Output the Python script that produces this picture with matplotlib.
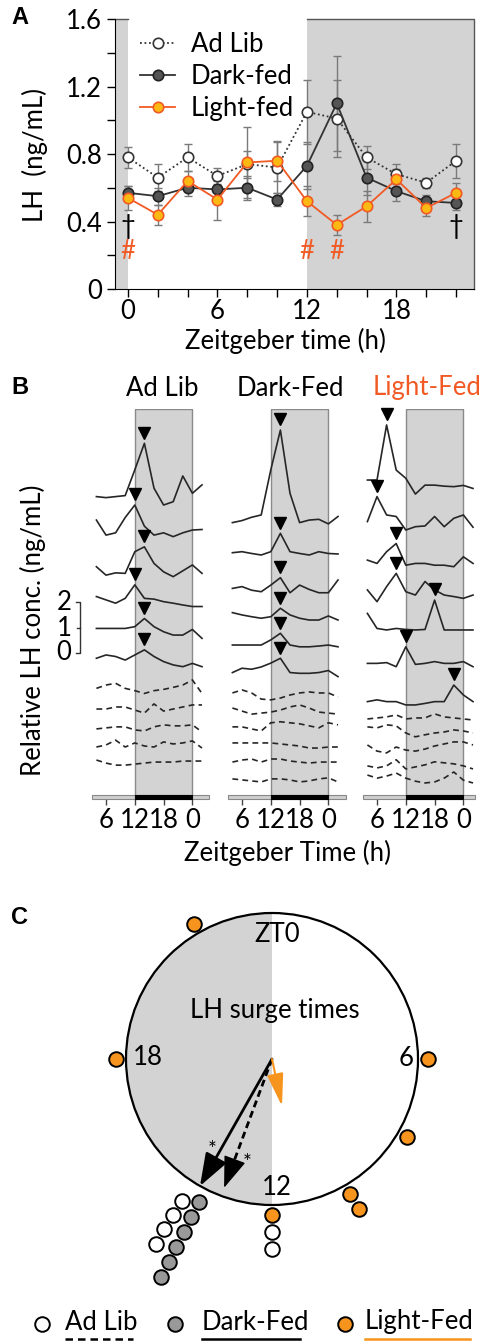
import numpy as np
import matplotlib
matplotlib.use('Agg')
import matplotlib.pyplot as plt
from matplotlib.patches import Rectangle, Wedge, Circle, FancyArrowPatch

plt.rcParams['font.family'] = ['Lato', 'DejaVu Sans']
FS = 18.5
plt.rcParams['font.size'] = FS

W, H = 480, 1343
SHADE = '#d3d3d3'
ORANGE = '#f15a24'
YELLOW = '#fdb913'
DOT_ORANGE = '#f7941d'

# ---------------- panel A: mean LH (ng/mL) +- SEM
zt_a = [0, 2, 4, 6, 8, 10, 12, 14, 16, 18, 20, 22]
adlib_mean = [0.78, 0.66, 0.78, 0.67, 0.74, 0.72, 1.05, 1.01, 0.78, 0.68, 0.63, 0.76]
adlib_sem = [0.06, 0.08, 0.08, 0.05, 0.08, 0.15, 0.19, 0.23, 0.07, 0.06, 0.03, 0.10]
dark_mean = [0.57, 0.55, 0.60, 0.59, 0.60, 0.53, 0.73, 1.10, 0.66, 0.58, 0.52, 0.51]
dark_sem = [0.04, 0.05, 0.05, 0.05, 0.07, 0.04, 0.14, 0.28, 0.10, 0.06, 0.04, 0.04]
light_mean = [0.54, 0.44, 0.64, 0.53, 0.75, 0.76, 0.52, 0.38, 0.49, 0.65, 0.48, 0.57]
light_sem = [0.07, 0.06, 0.06, 0.12, 0.21, 0.12, 0.09, 0.06, 0.09, 0.06, 0.05, 0.06]
dagger_zt = [0, 22]
hash_zt = [0, 12, 14]

# ---------------- panel B: relative LH of single animals, sampled every 2 h
zt_b = [4, 6, 8, 10, 12, 14, 16, 18, 20, 22, 24, 26]
adlib_solid = [
    [0, -0.04, 0, 0.04, 1.05, 2.09, 0.33, -0.33, -0.20, 0.81, 0.13, 0.46],
    [0, -0.59, -0.50, 0.10, 0.59, -0.24, -0.59, -0.50, -0.65, -0.50, -0.39, -0.37],
    [0, -0.33, -0.24, -0.26, 0.59, 0.78, 0.13, -0.20, -0.39, -0.16, 0.07, -0.26],
    [0, -0.13, -0.26, -0.07, 0.46, -0.07, -0.10, -0.20, -0.26, -0.33, -0.39, -0.39],
    [0, 0, 0, 0, 0.07, 0.39, 0.07, -0.13, -0.26, -0.26, -0.04, -0.39],
    [0, 0.13, 0.07, -0.07, 0.13, 0.33, 0.07, -0.13, -0.26, -0.33, -0.20, -0.33],
]
adlib_dashed = [
    [0, 0.13, 0.20, 0, -0.09, -0.20, -0.09, -0.04, 0.04, 0.13, 0.33, -0.20],
    [0, 0, 0.08, 0.08, -0.04, -0.16, 0.20, -0.08, 0, 0.08, 0.16, 0.16],
    [0, 0.04, 0.08, 0.08, -0.04, -0.08, 0.08, 0.16, 0.12, 0.12, 0.16, -0.12],
    [0, 0.08, 0.27, 0, 0.16, 0.04, 0, 0.20, 0.12, 0.16, 0.24, -0.04],
    [0, -0.12, -0.20, -0.20, -0.16, -0.12, -0.08, -0.08, -0.08, -0.04, -0.04, -0.04],
]
dark_solid = [
    [0, 0.08, 0.21, 0.30, 2.07, 3.63, 1.15, 0, 0.10, 0.13, -0.05, 0.24],
    [0, 0.04, -0.03, -0.09, 0.04, 0.76, 0.04, -0.03, -0.09, 0.04, -0.03, -0.05],
    [0, 0.07, -0.07, -0.13, 0.13, 0.42, -0.17, 0.13, -0.04, -0.17, -0.17, 0.33],
    [0, -0.09, -0.16, -0.22, -0.16, 0.17, -0.09, -0.22, -0.29, -0.29, -0.13, -0.29],
    [0, 0, 0, 0, 0.20, 0.46, 0, -0.07, -0.07, -0.04, 0, -0.07],
    [0, 0.17, 0.13, 0.22, 0.37, 0.56, 0, -0.03, -0.03, 0, 0.08, -0.16],
]
dark_dashed = [
    [0, 0.12, 0, -0.24, -0.27, -0.20, -0.08, 0, 0.04, 0, 0, -0.16],
    [0, -0.12, -0.24, -0.20, -0.16, -0.08, 0.04, 0.12, 0, -0.16, -0.20, -0.24],
    [0, 0, -0.08, -0.16, 0.16, 0.20, 0.16, 0.12, 0.04, -0.04, 0.16, 0.08],
    [0, 0, 0, 0, 0, -0.04, -0.08, -0.12, -0.20, -0.20, -0.16, -0.16],
    [0, 0.08, 0.12, 0, 0.12, 0.12, 0.04, 0, -0.04, 0, 0, 0],
    [0, -0.04, -0.08, -0.12, 0, 0, -0.04, -0.12, -0.08, 0, 0.04, -0.12],
]
light_solid = [
    [0, 0, 2.16, 0.39, 0.07, -0.55, -0.20, -0.20, -0.24, -0.26, -0.21, -0.33],
    [0, 0.98, 0.26, 0.20, -0.33, -0.20, -0.17, 0.20, -0.20, 0.13, 0.26, -0.22],
    [0, -0.13, 0.33, 0.65, -0.20, -0.13, -0.13, -0.20, -0.20, -0.26, 0.13, -0.13],
    [0, -0.46, 0.13, 0.65, -0.07, -0.20, 0.33, 0, -0.20, -0.26, -0.33, -0.20],
    [0, -0.59, -0.65, -0.59, -0.63, -0.65, -0.63, 0.52, -0.65, -0.65, -0.65, -0.65],
    [0, 0, 0.03, -0.13, 0.65, -0.04, 0, 0.07, 0, 0, 0.07, -0.13],
    [0, 0.07, 0, 0, -0.13, -0.13, -0.07, 0, 0, 0.65, 0.26, 0],
]
light_dashed = [
    [0, 0.04, 0.08, 0.16, 0, 0.04, 0.04, 0.20, 0.08, 0.04, 0, -0.04],
    [0, -0.04, 0.08, 0.04, -0.24, -0.39, -0.31, -0.24, -0.20, -0.12, -0.16, -0.24],
    [0, -0.24, -0.31, -0.08, -0.20, -0.24, -0.16, -0.04, 0.04, 0.12, 0.12, 0],
    [0, -0.08, 0, 0.24, -0.12, -0.04, 0.04, 0.16, 0.12, 0.08, 0, -0.12],
    [0, -0.12, -0.04, 0.08, -0.12, -0.24, -0.31, -0.27, -0.12, 0.12, -0.20, -0.31],
]
groups = ['Ad Lib', 'Dark-Fed', 'Light-Fed']

# ---------------- panel C: mean surge vectors (ZT, length)
mean_zt = [13.36, 13.97, 11.2]
mean_len = [0.96, 1.0, 0.33]

# vertical stacking of the traces in B (ng/mL above the time bar)
solid_off = [[11.78, 10.86, 9.03, 7.86, 6.61, 5.44],
             [10.76, 9.58, 8.18, 7.23, 5.96, 4.88],
             [12.43, 10.80, 9.29, 8.12, 7.20, 5.24, 3.74]]
dash_off = [[4.26, 3.45, 2.67, 1.96, 1.45],
            [4.08, 3.49, 2.75, 2.12, 1.37, 0.71],
            [3.06, 2.75, 2.04, 1.22, 0.86]]


def px_axes(fig, left, top, right, bottom):
    return fig.add_axes([left / W, 1 - bottom / H, (right - left) / W, (bottom - top) / H])


def letter(x, y, s):
    ov.text(x, y, s, ha='center', va='center', fontsize=17, fontweight='bold',
            family='Liberation Sans')


fig = plt.figure(figsize=(W / 100, H / 100), dpi=100)
ov = fig.add_axes([0, 0, 1, 1], zorder=10)
ov.set_xlim(0, W)
ov.set_ylim(H, 0)
ov.axis('off')

# ======================= A
ax = px_axes(fig, 115, 19, 474, 289)
x0, x1 = -0.87, 23.2
ax.set_xlim(x0, x1)
ax.set_ylim(0, 1.6)
ax.axvspan(x0, 0, color=SHADE, lw=0, zorder=0)
ax.axvspan(12, x1, color=SHADE, lw=0, zorder=0)
ax.plot([x0, 0], [1.6, 1.6], color='#555', lw=1, clip_on=False)
ax.plot([12, x1, x1], [1.6, 1.6, 0], color='#555', lw=1, clip_on=False)
for s in ['top', 'right']:
    ax.spines[s].set_visible(False)

ekw = dict(fmt='none', ecolor='#7a7a7a', elinewidth=1, capsize=3, capthick=1)
ax.errorbar(zt_a, adlib_mean, yerr=adlib_sem, **ekw)
ax.errorbar(zt_a, dark_mean, yerr=dark_sem, **ekw)
ax.errorbar(zt_a, light_mean, yerr=light_sem, **ekw)
ax.plot(zt_a, adlib_mean, ls=(0, (1, 1.5)), lw=1.3, color='#333', marker='o', ms=7.5,
        mfc='white', mec='#333', mew=1.2, label='Ad Lib')
ax.plot(zt_a, dark_mean, ls='-', lw=1.3, color='#333', marker='o', ms=7.5,
        mfc='#555', mec='#222', mew=1.2, label='Dark-fed')
ax.plot(zt_a, light_mean, ls='-', lw=1.3, color=ORANGE, marker='o', ms=7.5,
        mfc=YELLOW, mec=ORANGE, mew=1.2, label='Light-fed')
for t in dagger_zt:
    ax.text(t, 0.37, '\u2020', ha='center', va='center', fontsize=FS, color='k')
for t in hash_zt:
    ax.text(t, 0.22, '#', ha='center', va='center', fontsize=FS, color=ORANGE)

ax.set_yticks([0, 0.4, 0.8, 1.2, 1.6])
ax.set_yticklabels(['0', '0.4', '0.8', '1.2', '1.6'])
ax.set_yticks([0.2, 0.6, 1.0, 1.4], minor=True)
ax.set_xticks([0, 6, 12, 18])
ax.set_xticks(range(0, 23, 2), minor=True)
ax.tick_params(which='both', direction='out', length=6, width=1, labelsize=FS)
ax.tick_params(axis='x', pad=1)
ax.legend(loc='upper left', bbox_to_anchor=(0.035, 1.0), frameon=False, fontsize=FS,
          handlelength=1.35, handletextpad=0.6, labelspacing=0.28, borderpad=0)

ov.text(35, 155, 'LH  (ng/mL)', rotation=90, ha='center', va='center', fontsize=FS)
ov.text(285, 341, 'Zeitgeber time (h)', ha='center', va='center', fontsize=FS)
letter(20, 18, 'A')

# ======================= B
cols = [(92, 209), (228, 346), (363, 475)]
px_per_h = 4.8
px_per_unit = 25.5
top_b, bar_b = 409, 797
title_x = [162, 290, 427]
title_col = ['k', 'k', ORANGE]
solids = [adlib_solid, dark_solid, light_solid]
dasheds = [adlib_dashed, dark_dashed, light_dashed]
surge = []
for i, (l, r) in enumerate(cols):
    axb = px_axes(fig, l, top_b, r, bar_b)
    lo = 6 - (106 - 92) / px_per_h
    axb.set_xlim(lo, lo + (r - l) / px_per_h)
    axb.set_ylim(0, (bar_b - top_b) / px_per_unit)
    axb.axvspan(12, 24, facecolor=SHADE, edgecolor='#8a8a8a', lw=1, zorder=0)
    for s in axb.spines.values():
        s.set_visible(False)
    xl = axb.get_xlim()
    axb.add_patch(Rectangle((xl[0], -0.08), xl[1] - xl[0], 0.16, facecolor='#cfcfcf',
                            edgecolor='#888', lw=0.8, clip_on=False, zorder=3))
    axb.add_patch(Rectangle((12, -0.08), 12, 0.16, facecolor='k', edgecolor='k',
                            lw=0.8, clip_on=False, zorder=4))
    times = []
    for rel, off in zip(solids[i], solid_off[i]):
        y = off + np.array(rel)
        axb.plot(zt_b, y, color='#262626', lw=1.2, clip_on=False)
        k = int(np.argmax(rel))
        axb.plot(zt_b[k], y[k] + 0.42, marker='v', color='k', ms=8.5, clip_on=False)
        times.append(zt_b[k] % 24)
    surge.append(times)
    for rel, off in zip(dasheds[i], dash_off[i]):
        axb.plot(zt_b, off + np.array(rel), color='#262626', lw=1.2,
                 ls=(0, (3.5, 2.5)), clip_on=False)
    axb.set_xticks([6, 12, 18, 24])
    axb.set_xticklabels(['6', '12', '18', '0'])
    axb.set_yticks([])
    axb.tick_params(axis='x', length=6, width=1, color='#444', labelsize=FS, pad=2)
    ov.text(title_x[i], 388, groups[i], ha='center', va='center', fontsize=FS,
            color=title_col[i])

letter(20, 388, 'B')
ov.text(33, 630, 'Relative LH conc. (ng/mL)', rotation=90, ha='center', va='center',
        fontsize=FS)
ov.text(287, 853, 'Zeitgeber Time (h)', ha='center', va='center', fontsize=FS)
# scale bar
sb_y = [653, 628, 602]
ov.plot([76, 80, 80, 76], [sb_y[2], sb_y[2], sb_y[0], sb_y[0]], color='#333', lw=1)
ov.plot([77, 80], [sb_y[1], sb_y[1]], color='#333', lw=1)
for v, yy in zip(['0', '1', '2'], sb_y):
    ov.text(64, yy, v, ha='center', va='center', fontsize=FS)

# ======================= C
axc = px_axes(fig, 52, 839, 492, 1279)
lim = 220 / 146
axc.set_xlim(-lim, lim)
axc.set_ylim(-lim, lim)
axc.axis('off')
axc.add_patch(Wedge((0, 0), 1, 90, 270, facecolor=SHADE, edgecolor='none', zorder=0))
axc.add_patch(Circle((0, 0), 1, facecolor='none', edgecolor='k', lw=1.6, zorder=2))


def clock_xy(t, r):
    a = 2 * np.pi * t / 24
    return r * np.sin(a), r * np.cos(a)


axc.text(0.034, 0.85, 'ZT0', ha='center', va='center', fontsize=FS)
axc.text(0.02, 0.335, 'LH surge times', ha='center', va='center', fontsize=FS)
axc.text(0.92, 0.0, '6', ha='center', va='center', fontsize=FS)
axc.text(-0.85, 0.01, '18', ha='center', va='center', fontsize=FS)
axc.text(0.03, -0.88, '12', ha='center', va='center', fontsize=FS)

# mean vectors
for g in range(3):
    tip = clock_xy(mean_zt[g], mean_len[g])
    if g == 0:
        hl = 0.17 / mean_len[g]
        mid = (tip[0] * (1 - hl), tip[1] * (1 - hl))
        axc.plot([0, mid[0]], [0, mid[1]], color='k', lw=2, ls=(0, (2.5, 1.5)), zorder=4)
        axc.add_patch(FancyArrowPatch(mid, tip, arrowstyle='-|>,head_length=1.0,head_width=0.36',
                                      mutation_scale=20, color='k', lw=1, zorder=4))
    elif g == 1:
        axc.add_patch(FancyArrowPatch((0, 0), tip, arrowstyle='-|>,head_length=1.0,head_width=0.36',
                                      mutation_scale=20, color='k', lw=2, zorder=4,
                                      shrinkA=0, shrinkB=0))
    else:
        axc.add_patch(FancyArrowPatch((0, 0), tip, arrowstyle='-|>,head_length=1.0,head_width=0.25',
                                      mutation_scale=20, color=DOT_ORANGE, lw=1.5, zorder=4,
                                      shrinkA=0, shrinkB=0))
axc.text(-0.41, -0.62, '*', ha='center', va='center', fontsize=15)
axc.text(-0.17, -0.71, '*', ha='center', va='center', fontsize=15)

# individual surge times as stacked dots
dot_face = {'Ad Lib': 'white', 'Dark-Fed': '#999999', 'Light-Fed': DOT_ORANGE}
nudge = {('Ad Lib', 14): (0.15, 1.15), ('Dark-Fed', 14): (-0.2, 1.10)}
stack = {}
for name in ['Light-Fed', 'Ad Lib', 'Dark-Fed']:
    for t in surge[groups.index(name)]:
        dt, r0 = nudge.get((name, t), (0, 1.07))
        key = t + dt
        n = stack.get(key, 0)
        stack[key] = n + 1
        px_, py_ = clock_xy(key, r0 + n * 0.115)
        axc.plot(px_, py_, 'o', ms=10.5, mfc=dot_face[name], mec='k', mew=1.4,
                 clip_on=False, zorder=5)

letter(20, 917, 'C')

# legend of C
leg_x = [(42, 65, 133), (175, 202, 300), (345, 365, 470)]
leg_ls = [(0, (3, 2)), '-', '-']
leg_lc = ['k', 'k', DOT_ORANGE]
for g in range(3):
    mx, tx, ux = leg_x[g]
    ov.plot(mx, 1324, 'o', ms=10.5, mfc=dot_face[groups[g]], mec='k', mew=1.4)
    ov.text(tx, 1322, groups[g], ha='left', va='center', fontsize=FS)
    ov.plot([tx, ux], [1339, 1339], color=leg_lc[g], lw=1.8, ls=leg_ls[g])

fig.savefig('out.png', dpi=100)
